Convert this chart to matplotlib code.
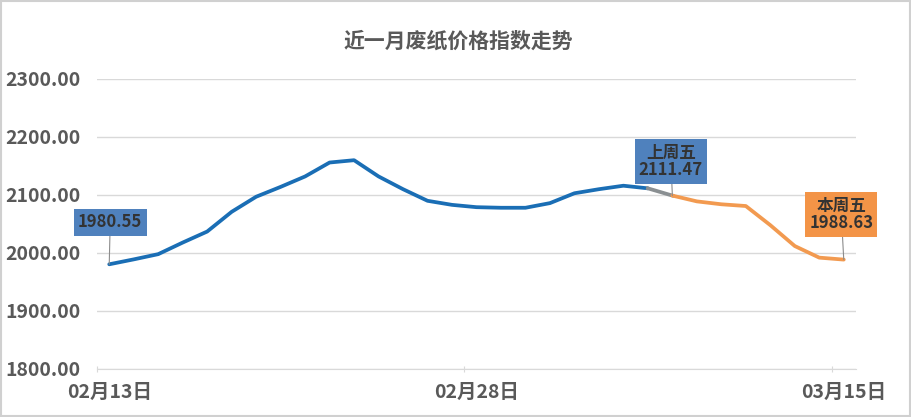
import matplotlib
matplotlib.use('Agg')
import matplotlib.pyplot as plt
from matplotlib.patches import Rectangle

plt.rcParams['font.family'] = ['Noto Sans CJK SC', 'DejaVu Sans']
plt.rcParams['font.weight'] = 'bold'

# 近一月废纸价格指数 (2019-02-13 ~ 2019-03-15, 每日)
dates = ['02月13日', '02月14日', '02月15日', '02月16日', '02月17日', '02月18日',
         '02月19日', '02月20日', '02月21日', '02月22日', '02月23日', '02月24日',
         '02月25日', '02月26日', '02月27日', '02月28日', '03月01日', '03月02日',
         '03月03日', '03月04日', '03月05日', '03月06日', '03月07日', '03月08日',
         '03月09日', '03月10日', '03月11日', '03月12日', '03月13日', '03月14日',
         '03月15日']
values = [1980.55, 1989, 1998, 2018, 2037, 2071, 2097, 2114, 2132, 2156, 2160,
          2132, 2110, 2090, 2083, 2079, 2078, 2078, 2086, 2103, 2110, 2116,
          2111.47, 2099, 2089, 2084, 2081, 2048, 2012, 1992, 1988.63]
split = 23          # 上周五之后用橙色
shown_labels = ['02月13日', '02月28日', '03月15日']

BLUE = '#1a6eb5'
ORANGE = '#f29a50'
GREY = '#595959'
GRID = '#d9d9d9'

fig = plt.figure(figsize=(9.12, 4.17), dpi=100)
ax = fig.add_axes([97 / 912, 48 / 417, 759 / 912, 290 / 417])

x = list(range(len(values)))
ax.plot(x[:split], values[:split], color=BLUE, lw=2.7, solid_capstyle='round', zorder=3)
ax.plot(x[split - 1:split + 1], values[split - 1:split + 1], color='#8a8f92', lw=2.7, zorder=3)
ax.plot(x[split:], values[split:], color=ORANGE, lw=2.7, solid_capstyle='round', zorder=3)

ax.set_ylim(1800, 2300)
ax.set_yticks([1800, 1900, 2000, 2100, 2200, 2300])
ax.set_yticklabels([f'{v:.2f}' for v in ax.get_yticks()])
ax.set_xlim(-0.5, len(values) - 0.5)

# 刻度线在类别边界，标签在数据点
lab_pos = [dates.index(d) for d in shown_labels]
ax.set_xticks([p - 0.5 for p in lab_pos])
ax.set_xticklabels([])
ax.set_xticks(lab_pos, minor=True)
ax.set_xticklabels(shown_labels, minor=True)
ax.tick_params(axis='x', which='major', length=5, color=GRID, direction='inout')
ax.tick_params(axis='x', which='minor', length=0, pad=10, labelsize=14, labelcolor=GREY)
ax.tick_params(axis='y', length=0, pad=12, labelsize=14, labelcolor=GREY)

ax.grid(axis='y', color=GRID, lw=1)
ax.set_axisbelow(True)
for s in ['top', 'right', 'left']:
    ax.spines[s].set_visible(False)
ax.spines['bottom'].set_color(GRID)

fig.text(458 / 912, 1 - 41 / 417, '近一月废纸价格指数走势', ha='center', va='center',
         fontsize=15, color=GREY, fontweight='bold')

# 数据标签
def tag(idx, text, xt, yt, fc):
    ax.annotate(text, xy=(idx, values[idx]), xytext=(xt, yt), textcoords='data',
                ha='center', va='center', fontsize=12, color='#333333',
                fontweight='bold', linespacing=1.0,
                bbox=dict(boxstyle='square,pad=0.25', fc=fc, ec='none'),
                arrowprops=dict(arrowstyle='-', color='#8c8c8c', lw=0.8,
                                shrinkA=0, shrinkB=0), zorder=5)

tag(0, f'{values[0]:.2f}', 0.04, 2052.6, '#4f81bd')
tag(split, f'上周五\n{values[split - 1]:.2f}', 22.94, 2157.8, '#4f81bd')
tag(len(values) - 1, f'本周五\n{values[-1]:.2f}', 29.9, 2066.4, '#f39447')

fig.patches.append(Rectangle((0.001, 0.002), 0.997, 0.995, transform=fig.transFigure,
                             fill=False, ec='#d0d0d0', lw=1.5))

fig.savefig('out.png', dpi=100)
